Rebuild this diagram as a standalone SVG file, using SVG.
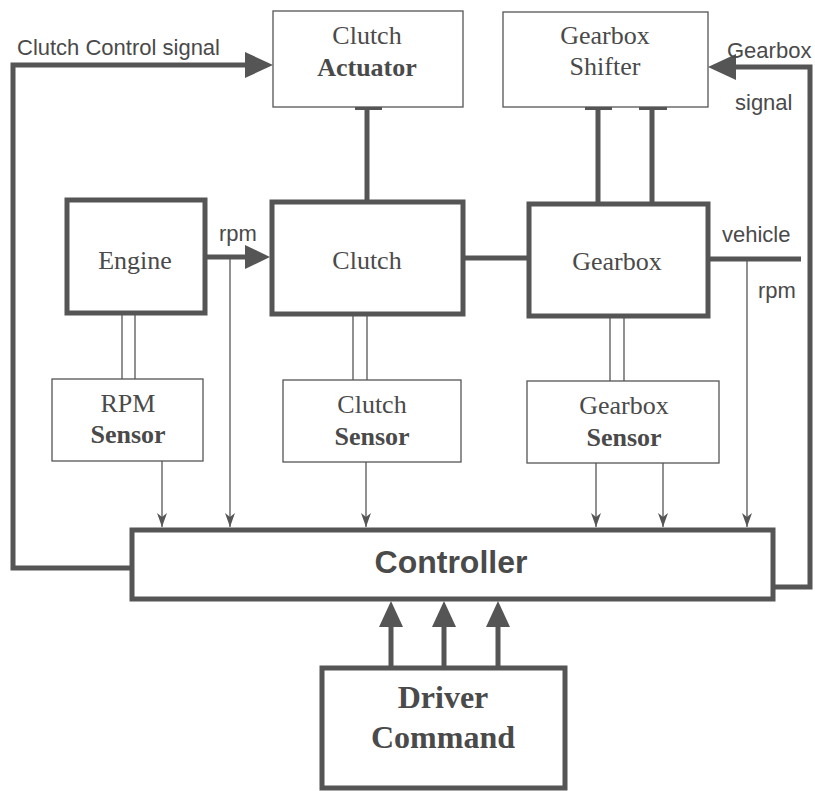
<svg xmlns="http://www.w3.org/2000/svg" width="815" height="791" viewBox="0 0 815 791">
<defs>
<style>
.thin{fill:#fff;stroke:#555;stroke-width:1.3}
.thick{fill:#fff;stroke:#555;stroke-width:5}
.serif{font-family:"Liberation Serif","Times New Roman",serif;font-size:26px;fill:#4a4a4a;text-anchor:middle}
.b{font-weight:bold}
.sans{font-family:"Liberation Sans",Arial,sans-serif;font-size:22px;fill:#4a4a4a}
.ln{stroke:#555;fill:none}
.w5{stroke-width:5}
.w1{stroke-width:1.3}
.hd{fill:#555}
</style>
<marker id="sm" markerWidth="14" markerHeight="10" refX="14" refY="5" orient="auto" markerUnits="userSpaceOnUse" viewBox="0 0 14 10">
<path d="M0,0 L14,5 L0,10 L4,5 Z" fill="#555"/>
</marker>
</defs>
<rect width="815" height="791" fill="#fff"/>

<g id="connectors">
<polyline class="ln w5" points="132,568 13,568 13,65 250,65"/>
<polygon class="hd" points="273,65 245,52 245,78"/>
<polyline class="ln w5" points="773,587 810,587 810,67 730,67"/>
<polygon class="hd" points="708,67 736,54 736,80"/>
<line class="ln w5" x1="367" y1="107" x2="367" y2="200"/>
<rect x="355" y="105" width="27" height="5" class="hd"/>
<line class="ln w5" x1="598" y1="107" x2="598" y2="202"/>
<line class="ln w5" x1="652" y1="107" x2="652" y2="202"/>
<rect x="585" y="105" width="27" height="5" class="hd"/>
<rect x="639" y="105" width="28" height="5" class="hd"/>
<line class="ln w5" x1="205" y1="257" x2="250" y2="257"/>
<polygon class="hd" points="270,257 245,245 245,269"/>
<line class="ln w5" x1="463" y1="258" x2="527" y2="258"/>
<line class="ln w5" x1="708" y1="259" x2="801" y2="259"/>
<line class="ln w1" x1="122" y1="313" x2="122" y2="379"/>
<line class="ln w1" x1="135" y1="313" x2="135" y2="379"/>
<line class="ln w1" x1="353" y1="314" x2="353" y2="380"/>
<line class="ln w1" x1="367" y1="314" x2="367" y2="380"/>
<line class="ln w1" x1="610" y1="316" x2="610" y2="381"/>
<line class="ln w1" x1="624" y1="316" x2="624" y2="381"/>
<line class="ln w1" x1="162" y1="461" x2="162" y2="527" marker-end="url(#sm)"/>
<line class="ln w1" x1="230" y1="257" x2="230" y2="527" marker-end="url(#sm)"/>
<line class="ln w1" x1="366" y1="462" x2="366" y2="527" marker-end="url(#sm)"/>
<line class="ln w1" x1="596" y1="463" x2="596" y2="527" marker-end="url(#sm)"/>
<line class="ln w1" x1="663" y1="463" x2="663" y2="527" marker-end="url(#sm)"/>
<line class="ln w1" x1="747" y1="259" x2="747" y2="527" marker-end="url(#sm)"/>
<line class="ln w5" x1="391" y1="667" x2="391" y2="620"/>
<line class="ln w5" x1="444" y1="667" x2="444" y2="620"/>
<line class="ln w5" x1="498" y1="667" x2="498" y2="620"/>
<polygon class="hd" points="391,601 379,627 403,627"/>
<polygon class="hd" points="444,601 432,627 456,627"/>
<polygon class="hd" points="498,601 486,627 510,627"/>
</g>

<g id="labels">
<text class="sans" x="17" y="55">Clutch Control signal</text>
<text class="sans" x="727" y="58">Gearbox</text>
<text class="sans" x="735" y="110">signal</text>
<text class="sans" x="219" y="241">rpm</text>
<text class="sans" x="722" y="242">vehicle</text>
<text class="sans" x="758" y="298">rpm</text>
</g>

<g id="clutch-actuator">
<rect class="thin" x="273" y="11" width="190" height="96"/>
<text class="serif" x="367" y="44">Clutch</text>
<text class="serif b" x="367" y="76">Actuator</text>
</g>

<g id="gearbox-shifter">
<rect class="thin" x="503" y="12" width="205" height="95"/>
<text class="serif" x="605" y="44">Gearbox</text>
<text class="serif" x="605" y="75">Shifter</text>
</g>

<g id="engine">
<rect class="thick" x="67" y="200" width="138" height="113"/>
<text class="serif" x="135" y="269">Engine</text>
</g>

<g id="clutch">
<rect class="thick" x="272" y="202" width="191" height="112"/>
<text class="serif" x="367" y="269">Clutch</text>
</g>

<g id="gearbox">
<rect class="thick" x="529" y="204" width="179" height="112"/>
<text class="serif" x="617" y="270">Gearbox</text>
</g>

<g id="rpm-sensor">
<rect class="thin" x="52" y="379" width="151" height="82"/>
<text class="serif" x="128" y="412">RPM</text>
<text class="serif b" x="128" y="443">Sensor</text>
</g>

<g id="clutch-sensor">
<rect class="thin" x="283" y="380" width="178" height="82"/>
<text class="serif" x="372" y="413">Clutch</text>
<text class="serif b" x="372" y="445">Sensor</text>
</g>

<g id="gearbox-sensor">
<rect class="thin" x="527" y="381" width="192" height="82"/>
<text class="serif" x="624" y="414">Gearbox</text>
<text class="serif b" x="624" y="446">Sensor</text>
</g>

<g id="controller">
<rect class="thick" x="132" y="530" width="641" height="69"/>
<text x="451" y="573" font-family="'Liberation Sans',Arial,sans-serif" font-weight="bold" font-size="32" fill="#4a4a4a" text-anchor="middle">Controller</text>
</g>

<g id="driver-command">
<rect class="thick" x="322" y="668" width="243" height="120"/>
<text class="serif b" x="443" y="708" style="font-size:32px">Driver</text>
<text class="serif b" x="443" y="748" style="font-size:32px">Command</text>
</g>
</svg>
